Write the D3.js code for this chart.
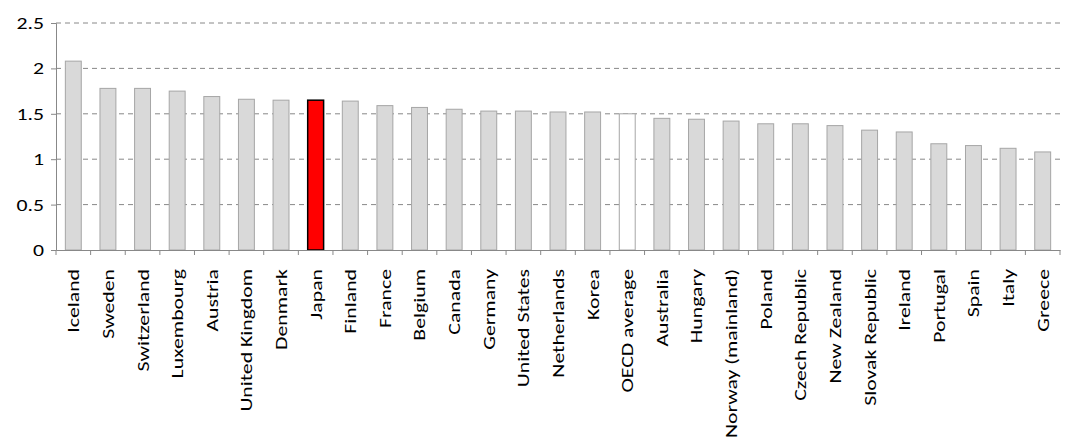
<!DOCTYPE html>
<html><head><meta charset="utf-8">
<script src="https://cdn.jsdelivr.net/npm/d3@7"></script>
<style>body{margin:0;background:#fff}text{font-family:Carlito,Calibri,"Liberation Sans",sans-serif}</style>
</head><body>
<svg id="chart" width="1067" height="439"></svg>
<script>
// data
var countries = ["Iceland","Sweden","Switzerland","Luxembourg","Austria","United Kingdom","Denmark","Japan","Finland","France","Belgium","Canada","Germany","United States","Netherlands","Korea","OECD average","Australia","Hungary","Norway (mainland)","Poland","Czech Republic","New Zealand","Slovak Republic","Ireland","Portugal","Spain","Italy","Greece"];
var values = [2.08,1.78,1.78,1.75,1.69,1.66,1.65,1.65,1.64,1.59,1.57,1.55,1.53,1.53,1.52,1.52,1.50,1.45,1.44,1.42,1.39,1.39,1.37,1.32,1.30,1.17,1.15,1.12,1.08];
var yTicks = [0,0.5,1,1.5,2,2.5];

var svg = d3.select("#chart");
var plotL = 56, plotR = 1060, plotT = 23, plotB = 250;
var stretch = 1.28;

var x = d3.scaleBand().domain(countries).range([plotL, plotR]).paddingInner(0.54).paddingOuter(0.27);
var y = d3.scaleLinear().domain([0, 2.5]).range([plotB, plotT]);

// gridlines
svg.selectAll(".grid").data(yTicks.slice(1)).enter().append("line")
  .attr("x1", plotL).attr("x2", plotR)
  .attr("y1", d => y(d)).attr("y2", d => y(d))
  .attr("stroke", "#888").attr("stroke-dasharray", "5,4").attr("stroke-width", 1);

// bars
svg.selectAll(".bar").data(countries).enter().append("rect")
  .attr("x", d => x(d)).attr("width", x.bandwidth())
  .attr("y", (d, i) => y(values[i])).attr("height", (d, i) => plotB - y(values[i]))
  .attr("fill", d => d == "Japan" ? "#ff0000" : d == "OECD average" ? "#fff" : "#d9d9d9")
  .attr("stroke", d => d == "Japan" ? "#000" : "#a6a6a6")
  .attr("stroke-width", d => d == "Japan" ? 1.5 : 1);

// y axis
var yAxis = d3.axisLeft(y).tickValues(yTicks).tickSize(5).tickFormat(d3.format("~g"));
var ya = svg.append("g").attr("transform", "translate(" + plotL + ",0)").call(yAxis);
ya.select(".domain").attr("stroke", "#888");
ya.selectAll(".tick line").attr("stroke", "#888");
ya.selectAll("text").attr("font-size", 17).attr("fill", "#000").attr("x", -12 / stretch)
  .attr("transform", "scale(" + stretch + ",1)");

// x axis
var xa = svg.append("g").attr("transform", "translate(0," + plotB + ")")
  .call(d3.axisBottom(x).tickSize(0));
xa.select(".domain").attr("stroke", "#888");
xa.selectAll("text").attr("font-size", 17).attr("fill", "#000")
  .attr("transform", "rotate(-90) scale(" + stretch + ",1)").attr("text-anchor", "end")
  .attr("x", -19 / stretch).attr("y", 0).attr("dy", "0.35em");
// category separator ticks
svg.selectAll(".sep").data(d3.range(countries.length + 1)).enter().append("line")
  .attr("x1", i => plotL + i * (plotR - plotL) / countries.length)
  .attr("x2", i => plotL + i * (plotR - plotL) / countries.length)
  .attr("y1", plotB).attr("y2", plotB + 5).attr("stroke", "#888");
</script>
</body></html>
